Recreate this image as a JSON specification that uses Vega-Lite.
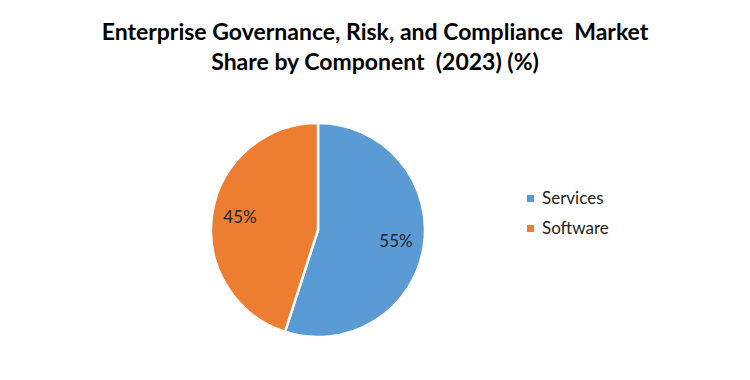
{
  "$schema": "https://vega.github.io/schema/vega-lite/v6.json",
  "width": 214,
  "height": 214,
  "autosize": {"type": "none"},
  "padding": {"left": 211, "top": 123, "right": 325, "bottom": 43},
  "background": "white",
  "title": {
    "text": ["Enterprise Governance, Risk, and Compliance\u00a0\u00a0Market", "Share by Component\u00a0\u00a0(2023) (%)"],
    "font": "Lato",
    "fontSize": 23,
    "fontWeight": "bold",
    "color": "#000000",
    "lineHeight": 30,
    "anchor": "middle",
    "dx": 57,
    "offset": 43
  },
  "data": {
    "values": [
      {"component": "Services", "share": 55, "label": "55%", "ord": 1},
      {"component": "Software", "share": 45, "label": "45%", "ord": 2}
    ]
  },
  "encoding": {
    "theta": {"field": "share", "type": "quantitative", "stack": true},
    "order": {"field": "ord", "type": "quantitative"},
    "color": {
      "field": "component",
      "type": "nominal",
      "scale": {"domain": ["Services", "Software"], "range": ["#5B9BD5", "#ED7D31"]},
      "legend": {
        "title": null,
        "orient": "none",
        "legendX": 311,
        "legendY": 67,
        "padding": 0,
        "symbolType": "square",
        "symbolSize": 50,
        "symbolStrokeWidth": 0,
        "labelFont": "Lato",
        "labelFontSize": 17,
        "labelColor": "#222222",
        "rowPadding": 12,
        "labelOffset": 3
      }
    }
  },
  "layer": [
    {"mark": {"type": "arc", "outerRadius": 107, "stroke": "white", "strokeWidth": 2.5}},
    {
      "mark": {"type": "text", "radius": 79, "font": "Lato", "fontSize": 17},
      "encoding": {"text": {"field": "label"}, "detail": {"field": "component"}, "color": {"value": "#222222"}}
    }
  ],
  "config": {"view": {"stroke": null}}
}
